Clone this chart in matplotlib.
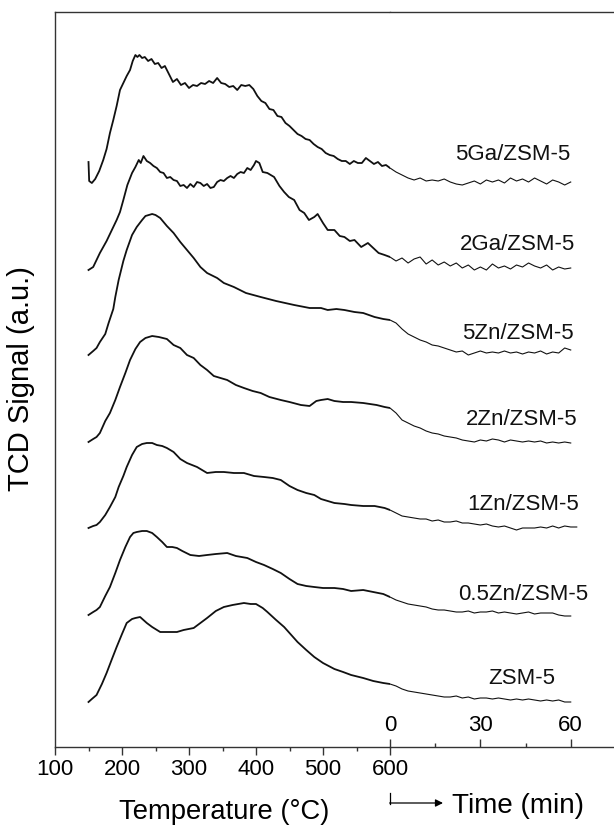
import matplotlib
matplotlib.use("Agg")
import matplotlib.pyplot as plt
from matplotlib.lines import Line2D

plt.rcParams['font.family'] = ['Liberation Sans', 'DejaVu Sans']

# axis ticks
temp_ticks = [100, 200, 300, 400, 500, 600]
temp_minor = [150, 250, 350, 450, 550]
time_ticks = [0, 30, 60]
time_minor = [15, 45]

# shared time grid (min) for the isothermal part
time_min = [0, 2, 4, 6, 8, 10, 12, 14, 16, 18, 20, 22, 24, 26, 28, 30,
            32, 34, 36, 38, 40, 42, 44, 46, 48, 50, 52, 54, 56, 58, 60]
time_min_1zn = time_min + [62]

# 5Ga/ZSM-5
ga5_T = [150, 151, 155, 160, 166, 172, 177, 182, 187, 192, 197, 202, 207, 212, 216, 220, 223, 226, 230, 234,
         239, 244, 249, 254, 259, 264, 270, 276, 282, 288, 294, 300, 306, 312, 318, 324, 330, 336, 342, 348,
         354, 360, 366, 372, 378, 384, 390, 396, 402, 408, 414, 420, 426, 432, 438, 444, 450, 456, 462, 468,
         474, 480, 486, 492, 498, 504, 510, 516, 522, 528, 534, 540, 546, 552, 558, 564, 570, 576, 582, 588,
         594, 600]
ga5_h = [585, 566, 564, 568, 576, 587, 598, 614, 627, 641, 657, 664, 671, 677, 686, 692, 690, 692, 689, 690,
         686, 688, 683, 684, 679, 681, 673, 665, 668, 662, 664, 659, 662, 661, 664, 663, 666, 664, 669, 664,
         663, 660, 661, 657, 662, 661, 662, 658, 651, 646, 644, 638, 637, 631, 630, 624, 621, 617, 613, 611,
         608, 607, 603, 600, 598, 594, 592, 591, 588, 586, 586, 583, 586, 584, 584, 589, 586, 583, 585, 581,
         582, 579]
ga5_th = [579, 575, 572, 569, 567, 569, 566, 567, 566, 568, 565, 563, 562, 564, 566, 563,
          567, 565, 567, 564, 569, 566, 568, 565, 569, 566, 563, 567, 565, 562, 565]

# 2Ga/ZSM-5
ga2_T = [150, 157, 162, 167, 172, 177, 182, 187, 192, 197, 202, 208, 215, 220, 225, 228, 232, 237, 242, 247,
         252, 257, 262, 267, 272, 277, 282, 287, 292, 297, 302, 307, 312, 317, 322, 327, 332, 337, 342, 347,
         352, 357, 362, 367, 372, 377, 382, 387, 392, 397, 400, 405, 410, 417, 427, 435, 442, 449, 457, 465,
         472, 479, 487, 492, 500, 507, 517, 525, 532, 540, 547, 557, 567, 575, 583, 592, 600]
ga2_h = [477, 480, 487, 494, 500, 506, 513, 520, 527, 535, 547, 562, 574, 580, 587, 584, 591, 586, 584, 581,
         579, 575, 574, 569, 570, 567, 566, 561, 562, 559, 563, 560, 565, 564, 561, 563, 559, 560, 565, 567,
         566, 569, 571, 569, 573, 575, 574, 579, 577, 582, 586, 584, 575, 574, 570, 561, 555, 550, 547, 537,
         534, 527, 530, 533, 524, 517, 517, 511, 510, 506, 507, 500, 504, 499, 494, 492, 490]
ga2_th = [490, 486, 489, 484, 488, 490, 483, 487, 482, 485, 481, 484, 479, 482, 477, 480,
          477, 483, 479, 481, 478, 482, 480, 484, 481, 479, 482, 477, 480, 478, 479]

# 5Zn/ZSM-5
zn5_T = [150, 157, 162, 167, 175, 180, 187, 190, 195, 202, 207, 215, 222, 230, 235, 240, 245, 250, 257, 267,
         277, 287, 297, 307, 317, 327, 342, 352, 367, 385, 407, 430, 457, 480, 497, 507, 520, 532, 547, 560,
         577, 590, 600]
zn5_h = [392, 396, 399, 405, 413, 424, 438, 450, 467, 486, 497, 512, 520, 527, 531, 532, 533, 532, 529, 521,
         514, 505, 497, 489, 480, 474, 469, 464, 460, 454, 450, 446, 442, 439, 439, 437, 438, 437, 435, 434,
         430, 428, 427]
zn5_th = [427, 424, 418, 413, 410, 407, 405, 402, 401, 399, 397, 395, 396, 392, 394, 396,
          394, 395, 394, 396, 394, 395, 393, 395, 394, 396, 393, 395, 394, 399, 397]

# 2Zn/ZSM-5
zn2_T = [150, 157, 162, 167, 175, 182, 190, 197, 205, 212, 220, 227, 235, 245, 255, 267, 277, 287, 297, 307,
         317, 327, 337, 347, 357, 370, 382, 395, 407, 420, 437, 450, 467, 480, 490, 497, 507, 517, 530, 542,
         560, 580, 592, 600]
zn2_h = [305, 308, 310, 314, 326, 334, 347, 360, 374, 387, 398, 405, 409, 411, 410, 408, 402, 399, 392, 389,
         382, 377, 371, 369, 367, 362, 359, 356, 354, 350, 347, 345, 342, 341, 346, 347, 348, 346, 345, 345,
         344, 342, 340, 339]
zn2_th = [339, 334, 327, 324, 321, 319, 316, 314, 313, 311, 310, 309, 307, 306, 305, 307,
          306, 308, 307, 305, 307, 306, 305, 306, 305, 306, 304, 305, 304, 305, 304]

# 1Zn/ZSM-5
zn1_T = [150, 157, 162, 167, 175, 182, 190, 195, 202, 207, 215, 222, 230, 237, 245, 252, 260, 267, 277, 287,
         297, 312, 327, 340, 352, 367, 382, 397, 412, 425, 437, 450, 462, 475, 487, 497, 507, 517, 532, 542,
         560, 577, 592, 600]
zn1_h = [219, 221, 222, 225, 232, 240, 250, 260, 271, 280, 292, 300, 303, 304, 304, 302, 301, 299, 295, 288,
         284, 280, 274, 275, 275, 274, 274, 271, 270, 269, 267, 261, 257, 254, 252, 248, 246, 244, 243, 242,
         241, 241, 239, 237]
zn1_th = [237, 234, 231, 230, 229, 228, 228, 226, 227, 225, 225, 226, 224, 224, 223, 222,
          223, 221, 220, 221, 219, 217, 219, 219, 219, 220, 219, 221, 219, 221, 220, 220]

# 0.5Zn/ZSM-5
zn05_T = [150, 157, 162, 167, 175, 182, 190, 197, 205, 212, 217, 222, 230, 237, 245, 252, 260, 267, 275, 282,
          290, 302, 315, 327, 340, 357, 370, 387, 400, 412, 425, 437, 450, 462, 475, 487, 500, 517, 530, 542,
          560, 575, 590, 600]
zn05_h = [132, 135, 137, 140, 151, 160, 174, 187, 200, 210, 214, 215, 216, 216, 214, 210, 205, 200, 200, 199,
          196, 192, 191, 192, 193, 194, 191, 189, 185, 182, 178, 174, 168, 163, 161, 160, 159, 159, 158, 156,
          157, 155, 153, 150]
zn05_th = [150, 147, 145, 143, 142, 141, 140, 138, 137, 137, 136, 135, 135, 136, 134, 135,
           135, 136, 134, 135, 134, 133, 134, 135, 133, 134, 134, 134, 132, 131, 131]

# ZSM-5
zsm_T = [150, 155, 162, 170, 177, 185, 192, 200, 207, 215, 220, 227, 232, 237, 245, 257, 267, 282, 292, 307,
         317, 327, 340, 352, 365, 382, 392, 400, 410, 417, 430, 442, 450, 462, 475, 487, 500, 517, 530, 542,
         560, 575, 590, 600]
zsm_h = [45, 48, 52, 63, 74, 88, 100, 113, 124, 128, 129, 130, 127, 124, 120, 115, 115, 115, 117, 119,
         124, 129, 136, 140, 142, 144, 143, 143, 139, 135, 127, 120, 114, 105, 97, 90, 84, 78, 75, 72,
         69, 66, 64, 63]
zsm_th = [63, 61, 58, 56, 55, 54, 53, 52, 51, 50, 50, 51, 49, 50, 48, 49,
          49, 48, 49, 48, 47, 48, 47, 48, 47, 46, 47, 46, 47, 45, 45]

labels = ["5Ga/ZSM-5", "2Ga/ZSM-5", "5Zn/ZSM-5", "2Zn/ZSM-5", "1Zn/ZSM-5", "0.5Zn/ZSM-5", "ZSM-5"]
label_pos = [(40.8, 593), (42.3, 502), (42.5, 414), (43.8, 328), (44.2, 243), (44.2, 153), (43.8, 68)]

series = [
    (ga5_T, ga5_h, time_min, ga5_th),
    (ga2_T, ga2_h, time_min, ga2_th),
    (zn5_T, zn5_h, time_min, zn5_th),
    (zn2_T, zn2_h, time_min, zn2_th),
    (zn1_T, zn1_h, time_min_1zn, zn1_th),
    (zn05_T, zn05_h, time_min, zn05_th),
    (zsm_T, zsm_h, time_min, zsm_th),
]

W, H = 614, 826
fig = plt.figure(figsize=(W / 100, H / 100), dpi=100)


def box(x0, x1, y0, y1):
    # pixel box -> figure fraction
    return [x0 / W, 1 - y1 / H, (x1 - x0) / W, (y1 - y0) / H]


ax_t = fig.add_axes(box(55, 390, 12, 747))
ax_m = fig.add_axes(box(390, 614, 12, 747), sharey=ax_t)

line_col = '#111111'
spine_col = '#333333'

for T, h, tm, th in series:
    ax_t.plot(T, h, color=line_col, lw=1.3)
    ax_m.plot(tm, th, color=line_col, lw=0.8)

ax_t.set_xlim(100, 600)
ax_m.set_xlim(0, 224 / 3.012)
ax_t.set_ylim(0, 735)

for name, (t, h) in zip(labels, label_pos):
    ax_m.text(t, h, name, ha='center', va='center', fontsize=16, color='#111111')

ax_t.spines['right'].set_visible(False)
ax_m.spines['left'].set_visible(False)
ax_m.spines['right'].set_visible(False)
for ax in (ax_t, ax_m):
    for s in ('top', 'bottom', 'left'):
        ax.spines[s].set_color(spine_col)
        ax.spines[s].set_linewidth(1.0)
    ax.tick_params(axis='y', left=False, labelleft=False)

ax_t.set_xticks(temp_ticks)
ax_t.set_xticks(temp_minor, minor=True)
ax_t.tick_params(axis='x', which='major', direction='out', length=5.8, width=1.0,
                 color=spine_col, labelsize=16, pad=3)
ax_t.tick_params(axis='x', which='minor', direction='out', length=3, width=1.0, color=spine_col)

ax_m.set_xticks(time_ticks)
ax_m.set_xticks(time_minor, minor=True)
ax_m.tick_params(axis='x', which='major', direction='in', length=5.8, width=1.0,
                 color=spine_col, labelsize=16, pad=-23)
ax_m.tick_params(axis='x', which='minor', direction='in', length=3, width=1.0, color=spine_col)

fig.text(224 / W, 1 - 819 / H, 'Temperature (°C)', ha='center', va='baseline', fontsize=19.7)
fig.text(451.7 / W, 1 - 813 / H, 'Time (min)', ha='left', va='baseline', fontsize=20)
fig.text(21 / W, 1 - 379 / H, 'TCD Signal (a.u.)', rotation=90, ha='center', va='center', fontsize=21)

# arrow from 600 °C into the time axis
fig.add_artist(Line2D([390 / W, 390 / W], [1 - 793 / H, 1 - 803.5 / H], color='k', lw=0.9,
                      transform=fig.transFigure))
ax_m.annotate('', xy=(443 / W, 1 - 803 / H), xytext=(389.6 / W, 1 - 803 / H),
              xycoords='figure fraction', textcoords='figure fraction',
              arrowprops=dict(arrowstyle='-|>', color='k', lw=0.9, mutation_scale=11,
                              shrinkA=0, shrinkB=0))

fig.savefig('out.png', dpi=100)
